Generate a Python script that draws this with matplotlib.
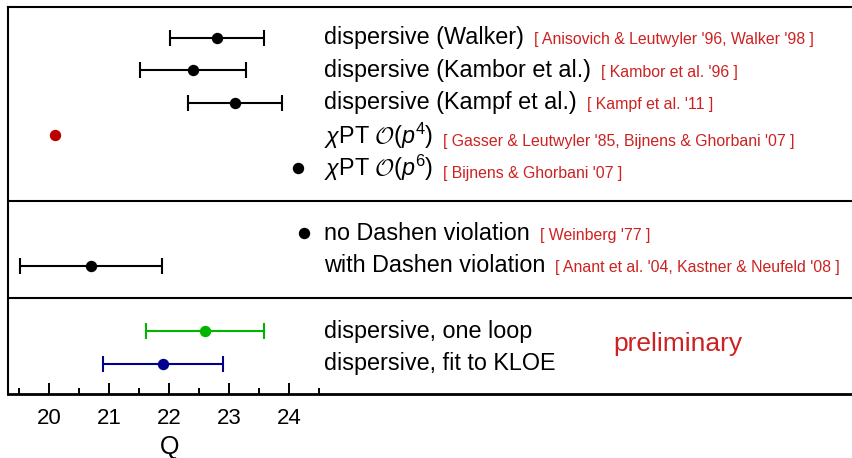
import numpy as np
import matplotlib; matplotlib.use("Agg")
import matplotlib.pyplot as plt

plt.rcParams.update({"font.family": "sans-serif", "font.sans-serif": ["Liberation Sans", "DejaVu Sans"],
                     "mathtext.fontset": "custom", "mathtext.rm": "Liberation Sans",
                     "mathtext.it": "Liberation Sans:italic", "mathtext.cal": "cmsy10"})

# ---- data ----
labels = ["dispersive (Walker)", "dispersive (Kambor et al.)", "dispersive (Kampf et al.)",
          r"$\chi$PT $\mathcal{O}(p^4)$", r"$\chi$PT $\mathcal{O}(p^6)$",
          "no Dashen violation", "with Dashen violation",
          "dispersive, one loop", "dispersive, fit to KLOE"]
cites = ["[ Anisovich & Leutwyler '96, Walker '98 ]", "[ Kambor et al. '96 ]", "[ Kampf et al. '11 ]",
         "[ Gasser & Leutwyler '85, Bijnens & Ghorbani '07 ]", "[ Bijnens & Ghorbani '07 ]",
         "[ Weinberg '77 ]", "[ Anant et al. '04, Kastner & Neufeld '08 ]", "", ""]
q_val = [22.8, 22.4, 23.1, 20.1, 24.15, 24.25, 20.7, 22.6, 21.9]
q_err = [0.78, 0.88, 0.78, np.nan, np.nan, np.nan, 1.18, 0.98, 1.0]
group_sizes = [5, 2, 2]

BLK, RED, GRN, BLU, CIT = "#000000", "#bb0000", "#00b400", "#00008c", "#cc2222"
colors = [BLK, BLK, BLK, RED, BLK, BLK, BLK, GRN, BLU]

# row positions: one empty row between groups
ys, dividers, k = [], [], 0
for g, n in enumerate(group_sizes):
    ys += [k + g + i for i in range(n)]
    k += n
    if g < len(group_sizes) - 1:
        dividers.append(k + g)

fig = plt.figure(figsize=(8.52, 4.58), dpi=100)
ax = fig.add_axes([7.7 / 852, 64 / 458, 1 - 7.7 / 852, 387.3 / 458])
ax.set_xlim(19.307, 33.38)
ax.set_ylim(10.93, -0.95)

for y, v, e, c in zip(ys, q_val, q_err, colors):
    if np.isnan(e):
        ax.plot(v, y, "o", color=c, ms=8.2, mec="none")
    else:
        ax.errorbar(v, y, xerr=e, fmt="o", color=c, ms=8.2, mec="none", elinewidth=1.5,
                    capsize=5.8, capthick=1.5)
for d in dividers:
    ax.axhline(d, color="k", lw=1.5)

FS, CFS = 16.8, 11.4
X_TXT = 24.58
for y, lab, cit in zip(ys, labels, cites):
    t = ax.text(X_TXT, y, lab, ha="left", va="center", fontsize=FS, color=BLK)
    if cit:
        ax.annotate(cit, xy=(1, 0), xycoords=t, xytext=(7, 0.21 * FS), textcoords="offset points",
                    ha="left", va="baseline", fontsize=CFS, color=CIT)
ax.text(29.41, (ys[-1] + ys[-2]) / 2 - 0.1, "preliminary", ha="left", va="center", fontsize=19, color=CIT)

for s in ["left", "top"]:
    ax.spines[s].set_linewidth(1.5)
ax.spines["bottom"].set_linewidth(2.0)
ax.spines["right"].set_visible(False)
ax.set_yticks([])
ax.set_xticks([20, 21, 22, 23, 24])
ax.set_xticks(np.arange(19.5, 25, 1.0), minor=True)
ax.tick_params(axis="x", which="major", direction="in", length=7.9, width=1.4, labelsize=16, pad=10)
ax.tick_params(axis="x", which="minor", direction="in", length=4.3, width=1.4)
ax.set_xlabel("Q", fontsize=18)
ax.xaxis.set_label_coords(22.0, -0.137, transform=ax.get_xaxis_transform())
ax.xaxis.label.set_va("center")

fig.savefig("out.png", dpi=100, facecolor="white")
